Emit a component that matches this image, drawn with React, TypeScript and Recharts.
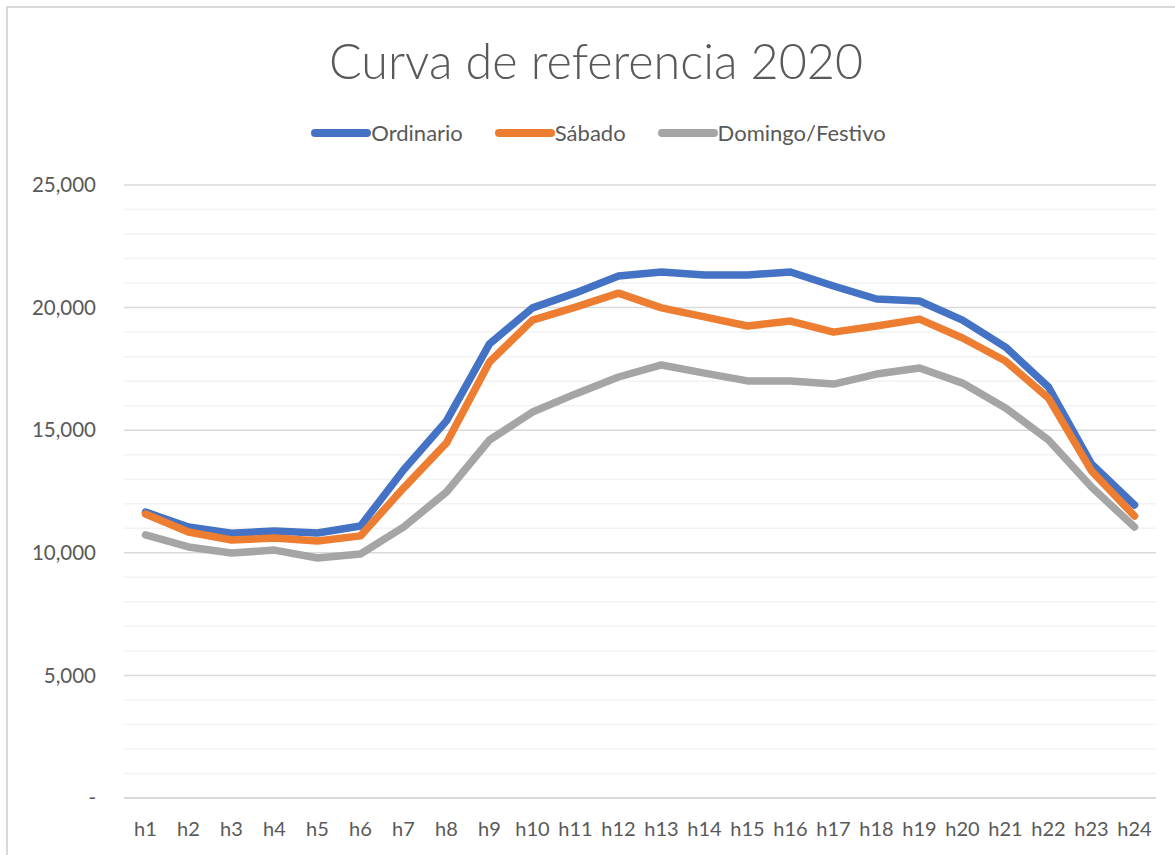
import { CartesianGrid, Line, LineChart, XAxis, YAxis } from 'recharts';

const hours = ['h1', 'h2', 'h3', 'h4', 'h5', 'h6', 'h7', 'h8', 'h9', 'h10', 'h11', 'h12', 'h13', 'h14', 'h15', 'h16', 'h17', 'h18', 'h19', 'h20', 'h21', 'h22', 'h23', 'h24'];

const ordinario = [11660, 11050, 10800, 10890, 10810, 11090, 13380, 15380, 18520, 19990, 20600, 21290, 21450, 21330, 21330, 21450, 20880, 20350, 20270, 19490, 18390, 16760, 13620, 11950];
const sabado = [11580, 10850, 10520, 10600, 10480, 10690, 12640, 14480, 17780, 19490, 20020, 20590, 19990, 19620, 19250, 19450, 19000, 19250, 19530, 18760, 17820, 16310, 13340, 11500];
const domingo = [10730, 10240, 9990, 10110, 9790, 9950, 11050, 12480, 14600, 15740, 16480, 17170, 17660, 17330, 17010, 17010, 16880, 17290, 17540, 16920, 15910, 14600, 12680, 11050];

const majorTicks = [0, 5000, 10000, 15000, 20000, 25000];
const minorTicks = [1000, 2000, 3000, 4000, 6000, 7000, 8000, 9000, 11000, 12000, 13000, 14000, 16000, 17000, 18000, 19000, 21000, 22000, 23000, 24000];

const series = [
  { key: 'ordinario', name: 'Ordinario', color: '#4472C4' },
  { key: 'sabado', name: 'Sábado', color: '#ED7D31' },
  { key: 'domingo', name: 'Domingo/Festivo', color: '#A5A5A5' },
];

const data = hours.map((h, i) => ({
  hour: h,
  ordinario: ordinario[i],
  sabado: sabado[i],
  domingo: domingo[i],
}));

const FONT = 'Lato, "Open Sans", sans-serif';
const TEXT = '#595959';

const fmt = (v: number) => (v === 0 ? '-' : v.toLocaleString('en-US'));

export default function App() {
  return (
    <div
      style={{
        position: 'absolute',
        left: 0,
        top: 0,
        width: 1175,
        height: 855,
        background: '#fff',
        fontFamily: FONT,
        overflow: 'hidden',
      }}
    >
      <div
        style={{
          position: 'absolute',
          left: 6,
          top: 6,
          right: -10,
          bottom: -10,
          borderLeft: '2px solid #d9d9d9',
          borderTop: '2px solid #d9d9d9',
        }}
      />
      <div
        style={{
          position: 'absolute',
          left: 0,
          width: 1192,
          top: 30,
          textAlign: 'center',
          fontSize: 48.5,
          fontWeight: 300,
          color: TEXT,
          lineHeight: '60px',
        }}
      >
        Curva de referencia 2020
      </div>
      <div
        style={{
          position: 'absolute',
          left: 0,
          width: 1197,
          top: 119,
          display: 'flex',
          justifyContent: 'center',
          alignItems: 'center',
          fontSize: 22,
          color: TEXT,
          lineHeight: '28px',
        }}
      >
        {series.map((s) => (
          <div key={s.key} style={{ display: 'flex', alignItems: 'center', margin: '0 16px' }}>
            <span
              style={{
                display: 'inline-block',
                width: 60,
                height: 8,
                borderRadius: 4,
                background: s.color,
              }}
            />
            <span>{s.name}</span>
          </div>
        ))}
      </div>
      <div style={{ position: 'absolute', left: 0, top: 0 }}>
        <LineChart
          width={1175}
          height={855}
          data={data}
          margin={{ top: 185, right: 19, left: 0, bottom: 0 }}
        >
          <CartesianGrid
            vertical={false}
            horizontalValues={minorTicks}
            stroke="#f2f2f2"
            strokeWidth={1.5}
          />
          <CartesianGrid vertical={false} stroke="#d9d9d9" strokeWidth={1.5} />
          <XAxis
            dataKey="hour"
            height={57}
            padding={{ left: 21.5, right: 21.5 }}
            tickLine={false}
            axisLine={{ stroke: '#d9d9d9', strokeWidth: 2 }}
            tick={{ fill: TEXT, fontSize: 20, fontFamily: FONT }}
            tickMargin={18}
            interval={0}
          />
          <YAxis
            width={124}
            domain={[0, 25000]}
            ticks={majorTicks}
            tickFormatter={fmt}
            axisLine={false}
            tickLine={false}
            tickMargin={22}
            tick={{ fill: TEXT, fontSize: 20.5, fontFamily: FONT }}
          />
          {series.map((s) => (
            <Line
              key={s.key}
              type="linear"
              dataKey={s.key}
              name={s.name}
              stroke={s.color}
              strokeWidth={7.5}
              strokeLinecap="round"
              strokeLinejoin="round"
              dot={false}
              activeDot={false}
              isAnimationActive={false}
            />
          ))}
        </LineChart>
      </div>
    </div>
  );
}
